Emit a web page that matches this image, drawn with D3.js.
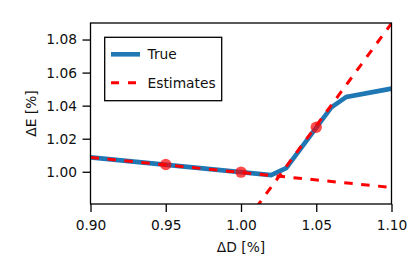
<!DOCTYPE html>
<html>
<head>
<meta charset="utf-8">
<script src="https://cdn.jsdelivr.net/npm/d3@7"></script>
<style>
  body { margin: 0; background: #fff; }
  svg { display: block; font-family: "DejaVu Sans", sans-serif; }
</style>
</head>
<body>
<svg id="chart" width="415" height="277"></svg>
<script>
// data
const trueX = [0.90, 1.02, 1.03, 1.06, 1.07, 1.10];
const trueY = [1.0087, 0.998, 1.0022, 1.039, 1.0453, 1.0503];
const est1X = [0.90, 1.10];
const est1Y = [1.0087, 0.9905];
const est2X = [1.01, 1.10];
const est2Y = [0.9783, 1.0898];
const sampleX = [0.95, 1.00, 1.05];
const sampleY = [1.0044, 0.9998, 1.0269];
const xTicks = [0.90, 0.95, 1.00, 1.05, 1.10];
const yTicks = [1.00, 1.02, 1.04, 1.06, 1.08];

const fontSize = 13.8;
const plotLeft = 90.5, plotRight = 391.5, plotTop = 23, plotBottom = 204;

const svg = d3.select('#chart');

const x = d3.scaleLinear().domain([0.90, 1.10]).range([plotLeft, plotRight]);
const y = d3.scaleLinear().domain([0.9805, 1.09]).range([plotBottom, plotTop]);

// clip to axes area
svg.append('defs').append('clipPath').attr('id', 'clip')
    .append('rect')
    .attr('x', plotLeft).attr('y', plotTop)
    .attr('width', plotRight - plotLeft).attr('height', plotBottom - plotTop);

const plot = svg.append('g').attr('clip-path', 'url(#clip)');

const line = d3.line()
    .x(d => x(d[0]))
    .y(d => y(d[1]));

// true curve
plot.append('path')
    .datum(d3.zip(trueX, trueY))
    .attr('d', line)
    .attr('fill', 'none')
    .attr('stroke', '#1f77b4')
    .attr('stroke-width', 4.6)
    .attr('stroke-linejoin', 'miter');

// estimate lines
[[est1X, est1Y], [est2X, est2Y]].forEach(function(e) {
    plot.append('path')
        .datum(d3.zip(e[0], e[1]))
        .attr('d', line)
        .attr('fill', 'none')
        .attr('stroke', '#ff0000')
        .attr('stroke-width', 3)
        .attr('stroke-dasharray', '8.5,8.5');
});

// sample points
plot.selectAll('circle')
    .data(d3.zip(sampleX, sampleY))
    .enter().append('circle')
    .attr('cx', d => x(d[0]))
    .attr('cy', d => y(d[1]))
    .attr('r', 5.7)
    .attr('fill', '#ff0000')
    .attr('fill-opacity', 0.7);

// axes
const xAxis = svg.append('g')
    .attr('transform', 'translate(0,' + plotBottom + ')')
    .call(d3.axisBottom(x).tickValues(xTicks).tickFormat(d3.format('.2f')).tickSize(8).tickPadding(8.5));
const yAxis = svg.append('g')
    .attr('transform', 'translate(' + plotLeft + ',0)')
    .call(d3.axisLeft(y).tickValues(yTicks).tickFormat(d3.format('.2f')).tickSize(8).tickPadding(5.5));

[xAxis, yAxis].forEach(function(a) {
    a.select('.domain').remove();
    a.selectAll('line').attr('stroke', '#000').attr('stroke-width', 1.3);
    a.selectAll('text')
        .attr('fill', '#111')
        .style('font-size', fontSize + 'px')
        .style('font-family', '"DejaVu Sans", sans-serif');
});

// frame
svg.append('rect')
    .attr('x', plotLeft).attr('y', plotTop)
    .attr('width', plotRight - plotLeft).attr('height', plotBottom - plotTop)
    .attr('fill', 'none')
    .attr('stroke', '#000')
    .attr('stroke-width', 1.3);

// axis labels
svg.append('text')
    .attr('x', (plotLeft + plotRight) / 2)
    .attr('y', 252)
    .attr('text-anchor', 'middle')
    .attr('fill', '#111')
    .style('font-size', fontSize + 'px')
    .text('ΔD [%]');

svg.append('text')
    .attr('transform', 'translate(36,' + (plotTop + plotBottom) / 2 + ') rotate(-90)')
    .attr('text-anchor', 'middle')
    .attr('fill', '#111')
    .style('font-size', fontSize + 'px')
    .text('ΔE [%]');

// legend
const legend = svg.append('g');
legend.append('rect')
    .attr('x', 104.7).attr('y', 37.3)
    .attr('width', 117).attr('height', 63.4)
    .attr('fill', '#fff')
    .attr('stroke', '#000')
    .attr('stroke-width', 1.3);

const legendItems = [
    {label: 'True', color: '#1f77b4', width: 4.6, dash: null, yPos: 54.3},
    {label: 'Estimates', color: '#ff0000', width: 3, dash: '8,9', yPos: 82.7}
];
legendItems.forEach(function(it) {
    legend.append('line')
        .attr('x1', 111).attr('x2', 140)
        .attr('y1', it.yPos).attr('y2', it.yPos)
        .attr('stroke', it.color)
        .attr('stroke-width', it.width)
        .attr('stroke-dasharray', it.dash);
    legend.append('text')
        .attr('x', 147.5)
        .attr('y', it.yPos + 5)
        .attr('fill', '#111')
        .style('font-size', fontSize + 'px')
        .text(it.label);
});
</script>
</body>
</html>
